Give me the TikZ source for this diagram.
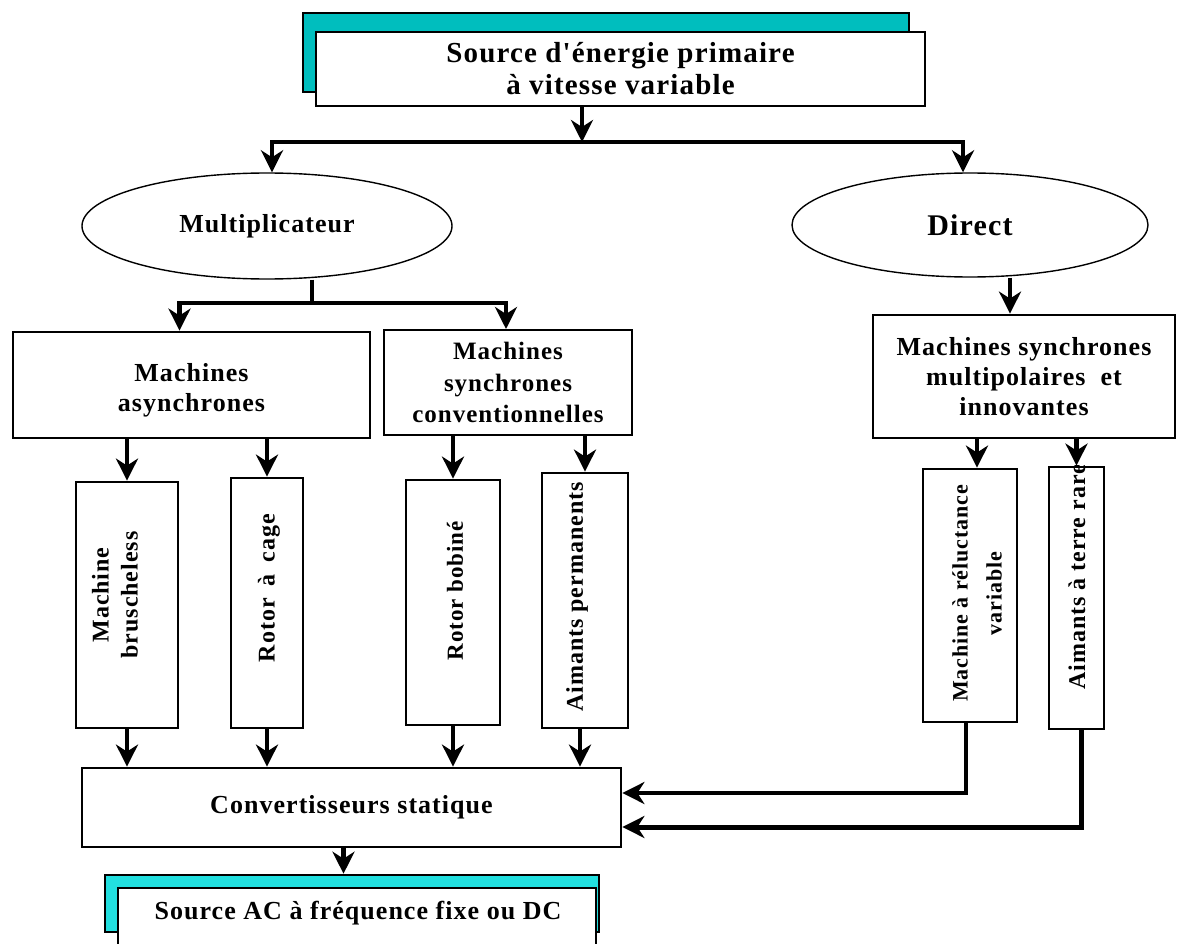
\documentclass[tikz,border=0pt]{standalone}
\usepackage{fontspec}
\newfontfamily\lbf[LetterSpace=4]{Liberation Serif}
\usetikzlibrary{arrows.meta,shapes.geometric}
\definecolor{cyantop}{RGB}{0,190,190}
\definecolor{cyanbot}{RGB}{34,224,224}
\tikzset{
  tA/.style={font=\lbf\bfseries\fontsize{29}{32}\selectfont},
  tB/.style={font=\lbf\bfseries\fontsize{26}{30}\selectfont},
  tC/.style={font=\lbf\bfseries\fontsize{25}{31.5}\selectfont},
  tD/.style={font=\lbf\bfseries\fontsize{24}{29}\selectfont},
  tG/.style={font=\lbf\bfseries\fontsize{23}{29}\selectfont},
  tE/.style={font=\lbf\bfseries\fontsize{22}{34}\selectfont},
  tF/.style={font=\lbf\bfseries\fontsize{30}{32}\selectfont},
  box/.style={draw, line width=2.8pt, fill=white, inner sep=0pt, align=center},
  shadowbox/.style={draw, line width=2.6pt, inner sep=0pt},
  ell/.style={ellipse, draw, line width=1.4pt, fill=white, inner sep=0pt},
  vtext/.style={rotate=90, align=center, inner sep=0pt},
  conn/.style={line width=4.5pt, -{Stealth[length=22pt,width=22pt,inset=7pt]}},
  plainline/.style={line width=4.5pt}
}
\begin{document}
\begin{tikzpicture}[x=1pt,y=-1pt]
\useasboundingbox (0,0) rectangle (1180,944);
\clip (0,0) rectangle (1180,944);
\fill[white] (0,0) rectangle (1180,944);

% top source
\node[shadowbox, fill=cyantop, minimum width=606pt, minimum height=79pt] (tcyan) at (606,52.5) {};
\node[box, line width=2.6pt, tA, minimum width=609pt, minimum height=74pt] (src) at (620.5,69)
  {Source d'énergie primaire\\à vitesse variable};

% ellipses
\node[ell, tB, minimum width=370pt, minimum height=106pt] (mult) at (267,226) {Multiplicateur};
\node[ell, tF, minimum width=356pt, minimum height=104pt] (direct) at (970,225) {Direct};

% second level boxes
\node[box, minimum width=357pt, minimum height=106pt] (async) at (191.5,385) {};
\node[tB, align=center, inner sep=0pt] (asynct) at (191.5,390) {Machines\\asynchrones};
\node[box, line width=2pt, tC, minimum width=248pt, minimum height=105pt] (sconv) at (508,382.5)
  {Machines\\synchrones\\conventionnelles};
\node[box, tB, minimum width=302pt, minimum height=123pt] (multip) at (1024,376.5)
  {Machines synchrones\\multipolaires~ et\\innovantes};

% vertical boxes
\node[box, minimum width=102pt, minimum height=246pt] (brush) at (127,605) {};
\node[box, minimum width=72pt, minimum height=250pt] (cage) at (267,603) {};
\node[box, minimum width=94pt, minimum height=245pt] (bobine) at (453,602.5) {};
\node[box, minimum width=86pt, minimum height=255pt] (aimperm) at (585,600.5) {};
\node[box, minimum width=94pt, minimum height=253pt] (reluct) at (970,595.5) {};
\node[box, minimum width=55pt, minimum height=262pt] (terre) at (1076.5,598) {};

\node[vtext, tD] (brusht) at (115,595) {Machine\\bruscheless};
\node[vtext, tD] (caget) at (269,588) {Rotor\enspace à\enspace cage};
\node[vtext, tG] (bobinet) at (455,591) {Rotor bobiné};
\node[vtext, tD] (aimpermt) at (577,597) {Aimants permanents};
\node[vtext, tE] (reluctt) at (977,593.5) {Machine à réluctance\\variable};
\begin{scope}
  \clip (terre.south west) rectangle (terre.north east);
  \node[vtext, tD, anchor=west] (terret) at (1077,690) {Aimants à terre rare};
\end{scope}

% converter
\node[box, tB, minimum width=539pt, minimum height=79pt] (conv) at (351.5,807.5) {Convertisseurs statique};

% bottom source
\node[shadowbox, fill=cyanbot, minimum width=494pt, minimum height=57pt] (bcyan) at (352,903.5) {};
\node[box, minimum width=478pt, minimum height=62pt] (bsrc) at (357,919) {};
\node[tB, inner sep=0pt] (bsrct) at (358,913) {Source AC à fréquence fixe ou DC};

% connectors top
\coordinate (j1) at (582,142);
\draw[conn] (src.south -| j1) -- (j1);
\draw[conn] (j1) -| ([xshift=5pt]mult.north);
\draw[conn] (j1) -| ([xshift=-7pt]direct.north);

\coordinate (j2) at (312,303);
\draw[plainline] (mult.south -| j2) -- (j2);
\draw[conn] (j2) -| ([xshift=-12pt]async.north);
\draw[conn] (j2) -| ([xshift=-2pt]sconv.north);

\draw[conn] ([xshift=40pt]direct.south) -- ([xshift=40pt]direct.south |- multip.north);

% to vertical boxes
\draw[conn] (async.south -| brush.north) -- (brush.north);
\draw[conn] (async.south -| cage.north) -- (cage.north);
\draw[conn] (sconv.south -| bobine.north) -- (bobine.north);
\draw[conn] (sconv.south -| aimperm.north) -- (aimperm.north);
\draw[conn] ([xshift=7pt]multip.south -| reluct.north) -- ([xshift=7pt]reluct.north);
\draw[conn] (multip.south -| terre.north) -- (terre.north);

% to converter
\draw[conn] (brush.south) -- (brush.south |- conv.north);
\draw[conn] (cage.south) -- (cage.south |- conv.north);
\draw[conn] (bobine.south) -- (bobine.south |- conv.north);
\draw[conn] ([xshift=-5pt]aimperm.south) -- ([xshift=-5pt]aimperm.south |- conv.north);
\draw[conn, line width=3.8pt] ([xshift=-4pt]reluct.south) |- ([yshift=14.5pt]conv.east);
\draw[conn, line width=5pt] ([xshift=5pt]terre.south) |- ([yshift=-19.5pt]conv.east);

% to bottom
\draw[conn] ([xshift=-8pt]conv.south) -- ([xshift=-8pt]conv.south |- bcyan.north);
\end{tikzpicture}
\end{document}
